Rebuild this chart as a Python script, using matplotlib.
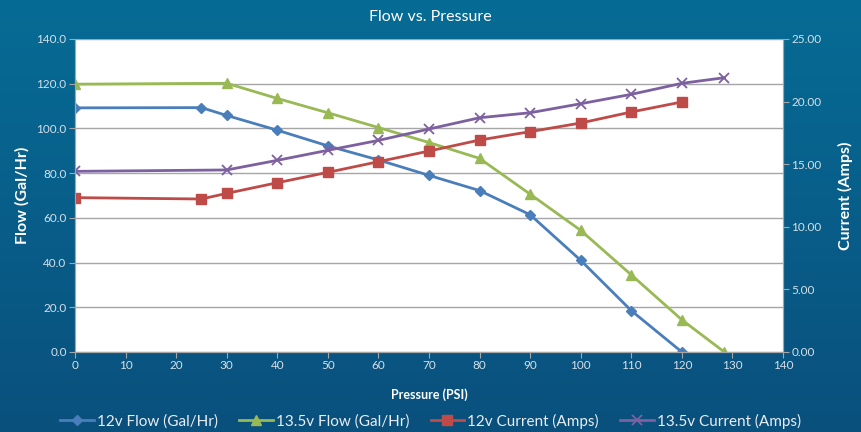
import matplotlib
matplotlib.use("Agg")
import matplotlib.pyplot as plt
import numpy as np

plt.rcParams['font.family'] = ['Lato', 'DejaVu Sans']

# Data
p_12_flow = [0, 25, 30, 40, 50, 60, 70, 80, 90, 100, 110, 120]
flow_12 = [109.2, 109.3, 105.8, 99.2, 92.2, 85.9, 79.0, 72.2, 61.4, 41.0, 18.5, 0.0]
p_135_flow = [0, 30, 40, 50, 60, 70, 80, 90, 100, 110, 120, 128.4]
flow_135 = [119.8, 120.2, 113.4, 107.0, 100.4, 93.7, 86.6, 70.6, 54.4, 34.5, 14.4, 0.0]
p_12_cur = [0, 25, 30, 40, 50, 60, 70, 80, 90, 100, 110, 120]
cur_12 = [12.33, 12.22, 12.67, 13.52, 14.35, 15.20, 16.05, 16.93, 17.60, 18.29, 19.17, 19.97]
p_135_cur = [0, 30, 40, 50, 60, 70, 80, 90, 100, 110, 120, 128.4]
cur_135 = [14.43, 14.54, 15.31, 16.11, 16.90, 17.81, 18.71, 19.11, 19.83, 20.58, 21.46, 21.91]

labels = ["12v Flow (Gal/Hr)", "13.5v Flow (Gal/Hr)", "12v Current (Amps)", "13.5v Current (Amps)"]
x_ticks = list(range(0, 141, 10))
left_ticks = [0, 20, 40, 60, 80, 100, 120, 140]
right_ticks = [0, 5, 10, 15, 20, 25]

W, H = 861, 432
fig = plt.figure(figsize=(W/100, H/100), dpi=100)

# gradient background
bg = fig.add_axes([0, 0, 1, 1], zorder=-10)
grad = np.linspace(0, 1, 256).reshape(-1, 1)
top = np.array([0x06, 0x6c, 0x95]) / 255
bot = np.array([0x0a, 0x50, 0x7d]) / 255
img = top[None, None, :] * (1 - grad[:, :, None]) + bot[None, None, :] * grad[:, :, None]
bg.imshow(img, aspect='auto', extent=[0, 1, 0, 1])
bg.axis('off')

ax = fig.add_axes([75/W, 1 - 352/H, 708/W, 313/H])
ax.set_facecolor('white')
ax2 = ax.twinx()

c_blue = '#4a7ebb'
c_green = '#98b954'
c_red = '#be4b48'
c_purple = '#7d60a0'

l1, = ax.plot(p_12_flow, flow_12, color=c_blue, lw=2, marker='D', ms=5, label=labels[0])
l2, = ax.plot(p_135_flow, flow_135, color=c_green, lw=2, marker='^', ms=7, label=labels[1])
l3, = ax2.plot(p_12_cur, cur_12, color=c_red, lw=2, marker='s', ms=7, label=labels[2])
l4, = ax2.plot(p_135_cur, cur_135, color=c_purple, lw=2, marker='x', ms=7, mew=1.3, label=labels[3])

ax.set_xlim(0, 140)
ax.set_ylim(0, 140)
ax2.set_ylim(0, 25)
ax.set_xticks(x_ticks)
ax.set_yticks(left_ticks)
ax.set_yticklabels([f"{v:.1f}" for v in left_ticks])
ax2.set_yticks(right_ticks)
ax2.set_yticklabels([f"{v:.2f}" for v in right_ticks])

ax.grid(axis='y', color='#a6a6a6', lw=1)
ax.set_axisbelow(True)
for a in (ax, ax2):
    for s in a.spines.values():
        s.set_visible(False)
    a.spines['left'].set_visible(True)
    a.spines['left'].set_color('#a6a6a6')
    a.spines['bottom'].set_visible(True)
    a.spines['bottom'].set_color('#a6a6a6')
    a.spines['right'].set_visible(True)
    a.spines['right'].set_color('#a6a6a6')

tick_col = '#d5e0e8'
ax.tick_params(axis='both', colors='#a6a6a6', labelcolor=tick_col, labelsize=8.5, length=4, direction='out', pad=2)
ax2.tick_params(axis='y', colors='#a6a6a6', labelcolor=tick_col, labelsize=8.5, length=4, direction='out', pad=2)

ax.set_xlabel("Pressure (PSI)", color='white', fontweight='bold', fontsize=9, labelpad=12)
ax.set_ylabel("Flow (Gal/Hr)", color='white', fontweight='bold', fontsize=11.5, labelpad=5)
ax2.set_ylabel("Current (Amps)", color='white', fontweight='bold', fontsize=11.5, labelpad=12)

fig.text(0.5, 1 - 17/H, "Flow vs. Pressure", color='white', fontsize=11.5, ha='center', va='center')

leg = fig.legend([l1, l2, l3, l4], labels, loc='center', bbox_to_anchor=(0.5, 1 - 421/H),
                 ncol=4, frameon=False, fontsize=11, handlelength=2.2, columnspacing=1.4,
                 handletextpad=0.2)
for t in leg.get_texts():
    t.set_color('#e8eef3')

fig.savefig("out.png", dpi=100)
